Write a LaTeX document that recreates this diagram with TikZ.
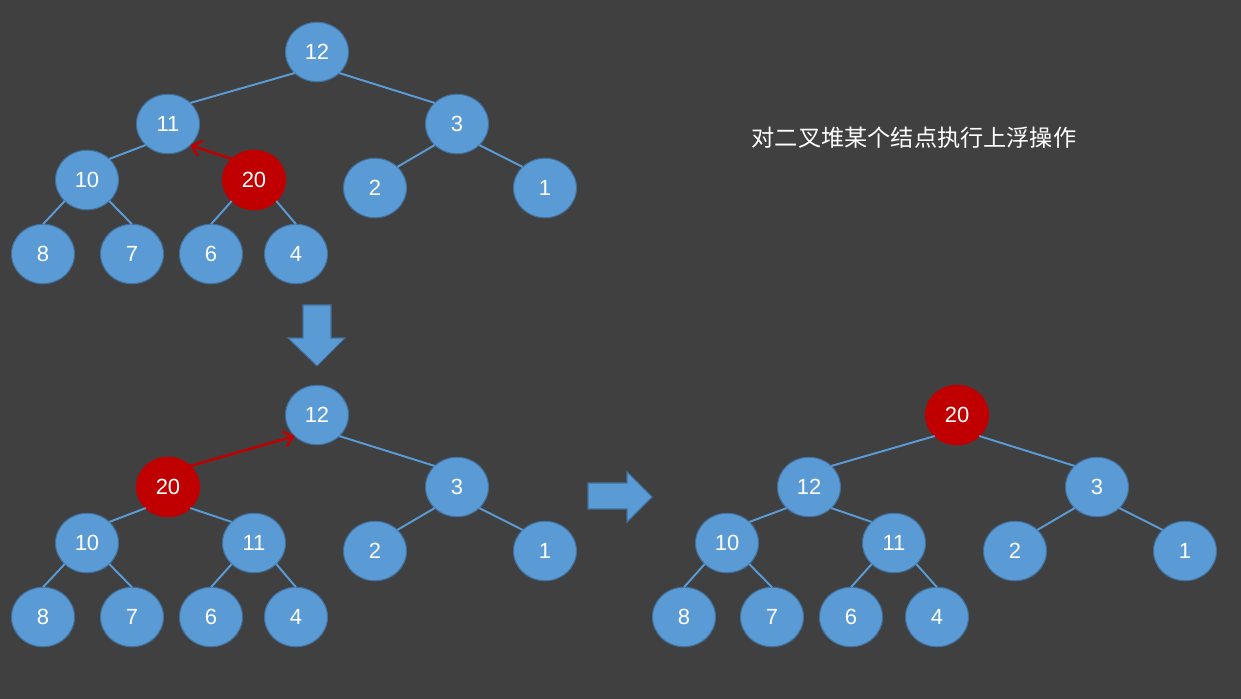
\documentclass[tikz,border=0pt]{standalone}
\usepackage{fontspec}
\setmainfont{Liberation Sans}
\newfontfamily\cjk{Noto Sans CJK SC}
\usetikzlibrary{shapes.geometric,arrows.meta}
\definecolor{bgdark}{HTML}{404040}
\definecolor{heapblue}{HTML}{5B9BD5}
\definecolor{heapedge}{HTML}{41719C}
\definecolor{heapred}{HTML}{C00000}
\tikzstyle{heapnode}=[ellipse, fill=heapblue, draw=heapedge, line width=0.6pt,
minimum width=1.26cm, minimum height=1.19cm, inner sep=0pt, outer sep=0pt,
text=white, font=\fontsize{12.5}{14}\selectfont]
\tikzstyle{upnode}=[heapnode, fill=heapred, draw=heapred]
\tikzstyle{link}=[draw=heapblue, line width=1.1pt]
\tikzstyle{swap}=[draw=heapred, line width=1.4pt, -{Straight Barb[length=5pt,width=9pt]}]
\tikzstyle{bigarrow}=[fill=heapblue, draw=heapedge, line width=0.6pt]

\begin{document}
\begin{tikzpicture}[x=0.02cm,y=-0.02cm]
\fill[bgdark] (0,0) rectangle (1241,699);
\useasboundingbox (0,0) rectangle (1241,699);

% before
\node[heapnode](a12)at (317,52){12};
\node[heapnode](a11)at (168,124){11};
\node[heapnode](a3)at (457,124){3};
\node[heapnode](a10)at (87,180){10};
\node[upnode](a20)at (254,180){20};
\node[heapnode](a2)at (375,188){2};
\node[heapnode](a1)at (545,188){1};
\node[heapnode](a8)at (43,254){8};
\node[heapnode](a7)at (132,254){7};
\node[heapnode](a6)at (211,254){6};
\node[heapnode](a4)at (296,254){4};
\draw[link](a12.south west) -- (a11.north east);
\draw[link](a12.south east) -- (a3.north west);
\draw[link](a11.south west) -- (a10.north east);
\draw[link](a3.south west) -- (a2.north east);
\draw[link](a3.south east) -- (a1.north west);
\draw[link](a10.south west) -- (a8.north);
\draw[link](a10.south east) -- (a7.north);
\draw[link](a20.south west) -- (a6.north);
\draw[link](a20.south east) -- (a4.north);
\draw[swap](a20.north west) -- (a11.south east);

% after one step
\node[heapnode](b12)at (317,415){12};
\node[upnode](b20)at (168,487){20};
\node[heapnode](b3)at (457,487){3};
\node[heapnode](b10)at (87,543){10};
\node[heapnode](b11)at (254,543){11};
\node[heapnode](b2)at (375,551){2};
\node[heapnode](b1)at (545,551){1};
\node[heapnode](b8)at (43,617){8};
\node[heapnode](b7)at (132,617){7};
\node[heapnode](b6)at (211,617){6};
\node[heapnode](b4)at (296,617){4};
\draw[link](b12.south east) -- (b3.north west);
\draw[link](b20.south west) -- (b10.north east);
\draw[link](b20.south east) -- (b11.north west);
\draw[link](b3.south west) -- (b2.north east);
\draw[link](b3.south east) -- (b1.north west);
\draw[link](b10.south west) -- (b8.north);
\draw[link](b10.south east) -- (b7.north);
\draw[link](b11.south west) -- (b6.north);
\draw[link](b11.south east) -- (b4.north);
\draw[swap](b20.north east) -- (b12.south west);

% result
\node[upnode](c20)at (957,415){20};
\node[heapnode](c12)at (809,487){12};
\node[heapnode](c3)at (1097,487){3};
\node[heapnode](c10)at (727,543){10};
\node[heapnode](c11)at (894,543){11};
\node[heapnode](c2)at (1015,551){2};
\node[heapnode](c1)at (1185,551){1};
\node[heapnode](c8)at (684,617){8};
\node[heapnode](c7)at (772,617){7};
\node[heapnode](c6)at (851,617){6};
\node[heapnode](c4)at (937,617){4};
\draw[link](c20.south west) -- (c12.north east);
\draw[link](c20.south east) -- (c3.north west);
\draw[link](c12.south west) -- (c10.north east);
\draw[link](c12.south east) -- (c11.north west);
\draw[link](c3.south west) -- (c2.north east);
\draw[link](c3.south east) -- (c1.north west);
\draw[link](c10.south west) -- (c8.north);
\draw[link](c10.south east) -- (c7.north);
\draw[link](c11.south west) -- (c6.north);
\draw[link](c11.south east) -- (c4.north);

% block arrows
\draw[bigarrow] (303,305) -- (331,305) -- (331,338) -- (345,338) -- (317,366)
  -- (288,338) -- (303,338) -- cycle;
\draw[bigarrow] (588,483) -- (627,483) -- (627,472) -- (652,497) -- (627,522)
  -- (627,509) -- (588,509) -- cycle;

\node[text=white, font=\cjk\fontsize{13.2}{15}\selectfont](title)at (914,138)
  {对二叉堆某个结点执行上浮操作};
\end{tikzpicture}
\end{document}
